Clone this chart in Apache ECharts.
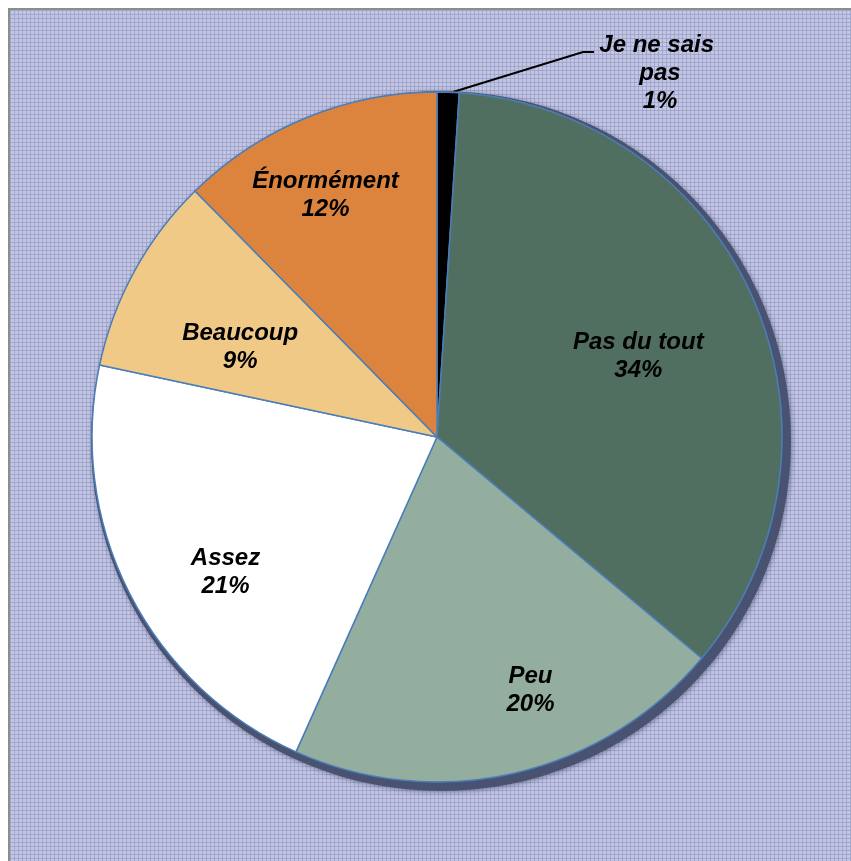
<!DOCTYPE html>
<html>
<head>
<meta charset="utf-8">
<script src="https://cdn.jsdelivr.net/npm/echarts@6/dist/echarts.min.js"></script>
<style>
  body { margin: 0; background: #fff; }
  #frame { position: absolute; left: 8px; top: 8px; width: 843px; height: 853px;
           border-left: 2px solid #8c8c8c; border-top: 2px solid #8c8c8c; }
  #pieChart { width: 843px; height: 853px; }
</style>
</head>
<body>
<div id="frame"><div id="pieChart"></div></div>
<script>
// réponses (sens horaire depuis midi)
var categories = ['Je ne sais pas', 'Pas du tout', 'Peu', 'Assez', 'Beaucoup', 'Énormément'];
var values = [1, 34, 20, 21, 9, 12];
var colors = ['#000000', '#516f60', '#93ae9f', '#ffffff', '#f0c987', '#dc843e'];

// décalage des étiquettes (comme dans Excel, pas tout au milieu)
var labelShift = [[0, 0], [40, -11], [54, 82], [-55, 56], [-43, -5], [-45, -79]];

// fond quadrillé
function makePattern() {
  var c = document.createElement('canvas');
  c.width = 4; c.height = 4;
  var ctx = c.getContext('2d');
  ctx.fillStyle = '#c3c7e2';
  ctx.fillRect(0, 0, 4, 4);
  ctx.fillStyle = '#a0a6cf';
  ctx.fillRect(0, 0, 4, 1);
  ctx.fillRect(0, 0, 1, 4);
  return c;
}

var myChart = echarts.init(document.getElementById('pieChart'));

var pieData = categories.map(function (name, i) {
  var item = { name: name, value: values[i], itemStyle: { color: colors[i] } };
  if (i === 0) {
    item.label = {
      position: 'outside',
      width: 130,
      overflow: 'break',
      align: 'center'
    };
    item.labelLine = { show: true, lineStyle: { color: '#000', width: 2 } };
  }
  return item;
});

var option = {
  backgroundColor: { image: makePattern(), repeat: 'repeat' },
  animation: false,
  series: [
    {
      // ombre sous le camembert
      type: 'pie',
      silent: true,
      center: [431, 431],
      radius: 350,
      label: { show: false },
      labelLine: { show: false },
      itemStyle: {
        color: '#4a5272',
        shadowColor: 'rgba(40,45,70,0.5)',
        shadowBlur: 5,
        shadowOffsetX: 1,
        shadowOffsetY: 1
      },
      data: [1]
    },
    {
      type: 'pie',
      center: [427, 427],
      radius: 345,
      startAngle: 90,
      clockwise: true,
      itemStyle: { borderColor: '#4a7ebb', borderWidth: 1.5 },
      label: {
        show: true,
        position: 'inside',
        formatter: '{b}\n{c}%',
        fontFamily: 'Liberation Sans, Arial, sans-serif',
        fontWeight: 'bold',
        fontStyle: 'italic',
        fontSize: 24,
        lineHeight: 28,
        color: '#000'
      },
      labelLine: { show: false },
      labelLayout: function (params) {
        if (params.dataIndex === 0) {
          return {
            x: 650, y: 63, align: 'center', verticalAlign: 'middle',
            labelLinePoints: [[443, 82], [573, 42], [584, 42]]
          };
        }
        var s = labelShift[params.dataIndex];
        return { dx: s[0], dy: s[1] };
      },
      data: pieData
    }
  ]
};

myChart.setOption(option);
</script>
</body>
</html>
